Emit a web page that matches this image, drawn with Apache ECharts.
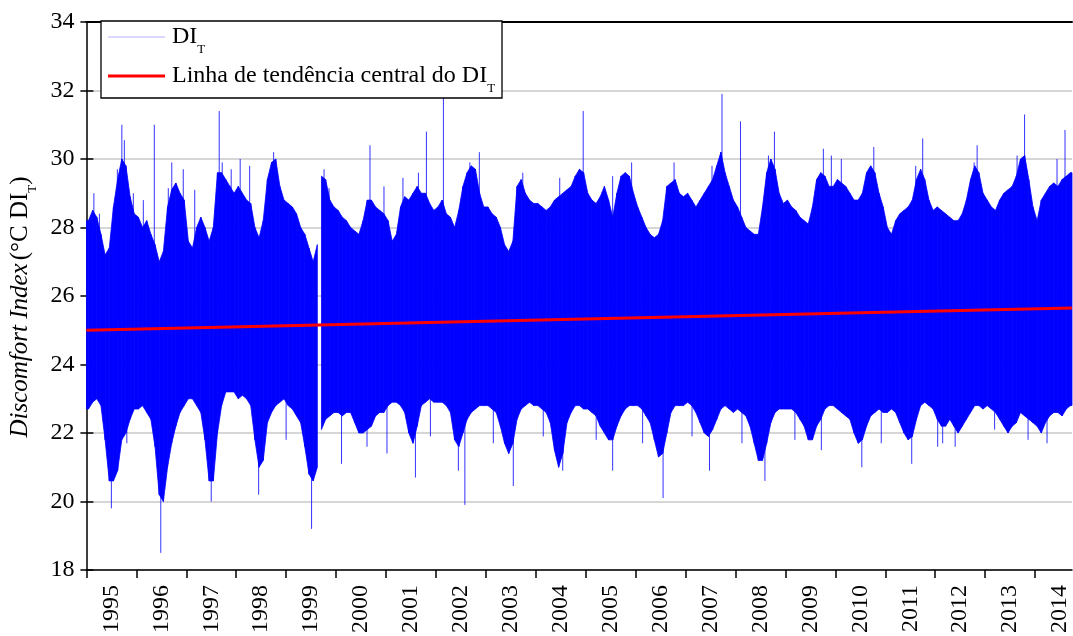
<!DOCTYPE html>
<html>
<head>
<meta charset="utf-8">
<script src="https://cdn.jsdelivr.net/npm/echarts@6/dist/echarts.min.js"></script>
<style>
html,body{margin:0;padding:0;background:#fff;}
#chart{width:1073px;height:636px;}
</style>
</head>
<body>
<div id="chart"></div>
<script>
// ---- data (monthly envelope of the daily DI_T series, Jan 1995 - Sep 2014) ----
const startYear = 1995;
const endYear = 2014.74;            // right end of the plotted period
const yearLabels = [1995,1996,1997,1998,1999,2000,2001,2002,2003,2004,2005,2006,2007,2008,2009,2010,2011,2012,2013,2014];

// upper envelope per month
const hiVals = [
  28.2,28.5,28.3,27.8,27.2,27.4,28.6,29.4,30.0,29.8,28.9,28.4, // 1995
  28.3,28.0,28.2,27.8,27.5,27.0,27.3,28.6,29.1,29.3,29.0,28.8, // 1996
  27.6,27.4,28.0,28.3,28.0,27.6,28.0,29.6,29.6,29.4,29.2,29.0, // 1997
  29.2,29.0,28.8,28.7,28.0,27.7,28.2,29.4,29.9,30.0,29.2,28.8, // 1998
  28.7,28.6,28.4,28.0,27.8,27.4,27.0,27.5,29.5,29.4,28.8,28.6, // 1999
  28.5,28.3,28.2,28.0,27.9,27.8,28.2,28.8,28.8,28.6,28.5,28.4, // 2000
  28.2,27.6,27.8,28.6,28.9,28.8,29.0,29.2,29.0,29.0,28.7,28.5, // 2001
  28.6,28.8,28.4,28.3,28.0,28.5,29.2,29.6,29.8,29.7,29.0,28.6, // 2002
  28.6,28.4,28.3,28.0,27.5,27.3,27.6,29.2,29.4,29.0,28.8,28.7, // 2003
  28.7,28.6,28.5,28.6,28.8,28.9,29.0,29.1,29.2,29.5,29.7,29.6, // 2004
  29.0,28.8,28.7,28.9,29.2,28.8,28.3,29.0,29.5,29.6,29.5,29.0, // 2005
  28.6,28.3,28.0,27.8,27.7,27.8,28.2,29.2,29.3,29.4,29.0,28.9, // 2006
  29.0,28.8,28.6,28.8,29.0,29.2,29.4,29.8,30.2,29.6,29.2,28.8, // 2007
  28.6,28.3,28.0,27.9,27.8,27.8,28.6,29.6,30.0,29.7,29.0,28.7, // 2008
  28.8,28.6,28.5,28.3,28.2,28.1,28.6,29.4,29.6,29.5,29.2,29.2, // 2009
  29.4,29.3,29.2,29.0,28.8,28.8,29.0,29.6,29.8,29.6,29.0,28.6, // 2010
  28.0,27.8,28.2,28.4,28.5,28.6,28.8,29.4,29.7,29.4,28.8,28.5, // 2011
  28.6,28.5,28.4,28.3,28.2,28.2,28.4,28.8,29.4,29.8,29.6,29.0, // 2012
  28.8,28.6,28.5,28.8,29.0,29.1,29.2,29.5,30.0,30.1,29.4,28.6, // 2013
  28.2,28.8,29.0,29.2,29.3,29.2,29.4,29.5,29.6                 // 2014
];
// lower envelope per month
const loVals = [
  22.7,22.9,23.0,22.8,21.8,20.6,20.6,20.9,21.8,22.0,22.4,22.7, // 1995
  22.7,22.8,22.6,22.4,21.6,20.2,20.0,21.0,21.7,22.2,22.6,22.8, // 1996
  23.0,23.0,22.8,22.6,21.8,20.6,20.6,22.0,22.8,23.2,23.2,23.2, // 1997
  23.0,23.1,23.0,22.8,21.8,21.0,21.2,22.3,22.6,22.8,22.9,23.0, // 1998
  22.8,22.7,22.5,22.3,21.6,20.8,20.6,21.0,22.1,22.4,22.5,22.6, // 1999
  22.6,22.5,22.6,22.6,22.3,22.0,22.0,22.1,22.2,22.5,22.6,22.6, // 2000
  22.8,22.9,22.9,22.8,22.6,22.0,21.7,22.2,22.8,22.9,23.0,22.9, // 2001
  22.9,22.9,22.8,22.6,21.8,21.6,22.0,22.4,22.6,22.7,22.8,22.8, // 2002
  22.8,22.7,22.6,22.2,21.7,21.4,21.7,22.4,22.7,22.8,22.9,22.8, // 2003
  22.8,22.7,22.6,22.3,21.5,21.0,21.4,22.3,22.6,22.8,22.8,22.7, // 2004
  22.7,22.6,22.5,22.2,22.0,21.8,21.8,22.2,22.5,22.7,22.8,22.8, // 2005
  22.8,22.7,22.5,22.3,21.8,21.3,21.4,22.0,22.6,22.8,22.8,22.8, // 2006
  22.9,22.8,22.6,22.3,22.0,21.9,22.1,22.4,22.7,22.8,22.7,22.6, // 2007
  22.7,22.6,22.5,22.2,21.7,21.2,21.2,21.7,22.3,22.6,22.7,22.7, // 2008
  22.7,22.7,22.6,22.4,22.2,21.8,21.8,22.2,22.4,22.7,22.8,22.8, // 2009
  22.7,22.6,22.5,22.4,22.0,21.7,21.8,22.2,22.5,22.6,22.7,22.6, // 2010
  22.6,22.7,22.6,22.3,22.0,21.8,21.9,22.4,22.8,22.9,22.8,22.7, // 2011
  22.4,22.2,22.2,22.4,22.2,22.0,22.2,22.4,22.6,22.8,22.8,22.7, // 2012
  22.8,22.7,22.6,22.4,22.2,22.0,22.2,22.3,22.6,22.5,22.4,22.3, // 2013
  22.2,22.0,22.3,22.5,22.6,22.6,22.5,22.7,22.8                 // 2014
];
// missing-data break (decimal year)
const dataGaps = [1999.69];

// isolated daily extremes [decimal year, DI_T]
const spikesUp = [
  [1995.15,29.0],[1995.26,28.4],[1995.62,29.7],[1995.71,31.0],[1995.76,30.55],[1995.94,29.0],
  [1996.14,28.8],[1996.36,31.0],[1996.64,29.15],[1996.71,29.9],[1996.94,29.7],[1997.17,29.1],
  [1997.66,31.4],[1997.72,29.9],[1997.90,29.7],[1998.08,30.0],[1998.27,29.8],[1998.75,30.2],
  [1998.90,29.05],[1999.76,29.7],[1999.86,29.15],[2000.68,30.4],[2000.96,29.2],[2001.34,29.45],
  [2001.65,29.6],[2001.81,30.8],[2002.15,31.85],[2002.68,29.9],[2002.87,30.2],[2003.74,29.6],
  [2004.48,29.45],[2004.95,31.4],[2005.54,29.5],[2005.92,29.9],[2006.77,29.9],[2007.53,29.8],
  [2007.73,31.9],[2008.10,31.1],[2008.66,30.1],[2008.78,30.8],[2009.76,30.3],[2009.92,30.1],
  [2010.12,30.0],[2010.77,30.35],[2011.61,29.8],[2011.75,30.6],[2012.78,29.9],[2012.84,30.4],
  [2013.64,30.1],[2013.79,31.3],[2014.44,30.0],[2014.60,30.85]
];
const spikesDown = [
  [1995.50,19.8],[1995.81,21.7],[1996.49,18.5],[1997.50,20.0],[1998.45,20.2],[1999.00,21.8],
  [1999.51,19.2],[2000.11,21.1],[2000.62,21.6],[2001.02,21.4],[2001.59,20.7],[2001.89,21.9],
  [2002.45,20.9],[2002.58,19.9],[2003.15,21.7],[2003.55,20.45],[2004.15,21.9],[2004.54,20.9],
  [2005.21,21.8],[2005.54,20.9],[2006.14,21.7],[2006.55,20.1],[2007.13,21.9],[2007.48,20.9],
  [2008.13,21.7],[2008.59,20.6],[2009.19,21.8],[2009.72,21.5],[2010.53,21.0],[2010.92,21.7],
  [2011.53,21.1],[2012.05,21.6],[2012.15,21.7],[2012.40,21.6],[2013.19,22.1],[2013.86,21.8],
  [2014.24,21.7]
];
const spikeBase = 25.3;

// central trend line (start / end)
const trendX = [1995, 2014.74];
const trendY = [25.0, 25.65];

// ---- build series data ----
const bandItems = hiVals.map((h, i) => [startYear + (i + 0.5) / 12, loVals[i], h]);
const spikeData = [];
spikesUp.concat(spikesDown).forEach(p => {
  spikeData.push([p[0], spikeBase], [p[0], p[1]], [p[0], null]);
});
const trendData = trendX.map((x, i) => [x, trendY[i]]);
const tickYears = yearLabels.map(y => y);
const labelYears = yearLabels.map(y => y + 0.5);

function quad(api, t0, lo0, hi0, t1, lo1, hi1) {
  return {
    type: 'polygon',
    shape: {points: [api.coord([t0, hi0]), api.coord([t1, hi1]), api.coord([t1, lo1]), api.coord([t0, lo0])]},
    style: {fill: '#0000ff', stroke: '#0000ff', lineWidth: 0.8}
  };
}
function renderBand(params, api) {
  const i = params.dataIndex;
  const cur = bandItems[i], nxt = bandItems[i + 1];
  const children = [];
  if (i === 0) children.push(quad(api, startYear, cur[1], cur[2], cur[0], cur[1], cur[2]));
  if (!nxt) {
    children.push(quad(api, cur[0], cur[1], cur[2], endYear, cur[1], cur[2]));
  } else {
    let gap = false;
    for (const g of dataGaps) { if (g > cur[0] && g < nxt[0]) gap = true; }
    if (!gap) children.push(quad(api, cur[0], cur[1], cur[2], nxt[0], nxt[1], nxt[2]));
  }
  return {type: 'group', children: children};
}

const FONT = "'Liberation Serif','Times New Roman',serif";
const chart = echarts.init(document.getElementById('chart'), null, {renderer: 'canvas'});
chart.setOption({
  animation: false,
  backgroundColor: '#fff',
  grid: {left: 81, right: 1, top: 22, bottom: 62, containLabel: false},
  graphic: [{
    type: 'rect', z: 5,
    shape: {x: 101, y: 21, width: 401, height: 77},
    style: {fill: '#fff', stroke: '#000', lineWidth: 1.3}
  }],
  legend: {
    z: 10,
    left: 108, top: 25,
    orient: 'vertical',
    padding: 0,
    itemGap: 8,
    itemWidth: 57,
    itemHeight: 14,
    data: [
      {name: 'DI_T', icon: 'path://M0,0L57,0L57,1L0,1Z', itemStyle: {color: 'rgba(0,0,255,0.3)'}},
      {name: 'Linha de tendência central do DI_T', icon: 'path://M0,0L57,0L57,3L0,3Z', itemStyle: {color: '#ff0000'}}
    ],
    formatter: function (n) {
      return n === 'DI_T' ? '{m|DI}{s|T}' : '{m|Linha de tendência central do DI}{s|T}';
    },
    textStyle: {
      fontFamily: FONT, color: '#000', padding: [0, 0, 0, 2],
      rich: {
        m: {fontFamily: FONT, fontSize: 24, lineHeight: 38, color: '#000'},
        s: {fontFamily: FONT, fontSize: 13, lineHeight: 14, verticalAlign: 'bottom', color: '#000'}
      }
    }
  },
  xAxis: [{
    type: 'value', min: startYear, max: endYear, position: 'bottom',
    axisLine: {show: true, onZero: false, lineStyle: {color: '#000', width: 1.5}},
    axisTick: {show: true, customValues: tickYears, length: 8, lineStyle: {color: '#000', width: 1.5}},
    axisLabel: {
      customValues: labelYears, rotate: 90, margin: 15,
      formatter: v => String(Math.floor(v)),
      fontFamily: FONT, fontSize: 24, color: '#000'
    },
    splitLine: {show: false}
  }, {
    type: 'value', min: startYear, max: endYear, position: 'top',
    axisLine: {show: true, onZero: false, lineStyle: {color: '#000', width: 2}},
    axisTick: {show: false}, axisLabel: {show: false}, splitLine: {show: false}
  }],
  yAxis: [{
    type: 'value', min: 18, max: 34, interval: 2, position: 'left',
    axisLine: {show: true, onZero: false, lineStyle: {color: '#000', width: 1.5}},
    axisTick: {show: true, length: 6, lineStyle: {color: '#000', width: 1.5}},
    axisLabel: {fontFamily: FONT, fontSize: 24, color: '#000', margin: 12},
    splitLine: {show: true, lineStyle: {color: '#c8c8c8', width: 1.5}},
    name: '{i|Discomfort Index} {n|(°C DI}{s|T}{n|)}',
    nameLocation: 'middle', nameRotate: 90, nameGap: 37,
    nameTextStyle: {
      fontFamily: FONT, color: '#000', padding: [0, 22, 0, 0],
      rich: {
        i: {fontFamily: FONT, fontSize: 25, fontStyle: 'italic', lineHeight: 38, color: '#000'},
        n: {fontFamily: FONT, fontSize: 25, lineHeight: 38, color: '#000'},
        s: {fontFamily: FONT, fontSize: 13, lineHeight: 14, verticalAlign: 'bottom', color: '#000'}
      }
    }
  }, {
    type: 'value', min: 18, max: 34, interval: 2, position: 'left',
    axisLine: {show: false},
    axisTick: {show: true, inside: true, length: 7, lineStyle: {color: '#000', width: 1.5}},
    axisLabel: {show: false}, splitLine: {show: false}
  }],
  series: [{
    name: 'DI_T', type: 'custom', data: bandItems,
    encode: {x: 0, y: [1, 2]},
    renderItem: renderBand, silent: true, clip: true, z: 2,
    itemStyle: {color: '#0000ff'}
  }, {
    name: 'spikes', type: 'line', data: spikeData, symbol: 'none', silent: true,
    connectNulls: false, lineStyle: {color: '#0000ff', width: 1, opacity: 0.8}, z: 2
  }, {
    name: 'Linha de tendência central do DI_T', type: 'line', data: trendData,
    symbol: 'none', silent: true, lineStyle: {color: '#ff0000', width: 3},
    itemStyle: {color: '#ff0000'}, z: 4
  }]
});
</script>
</body>
</html>
